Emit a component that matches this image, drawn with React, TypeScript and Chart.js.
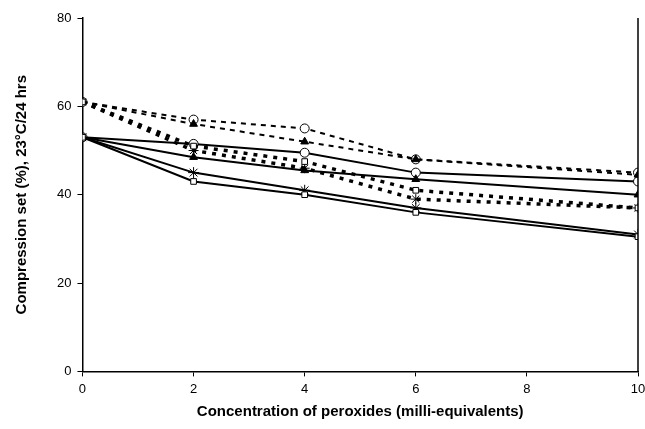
import React, { useEffect, useRef } from "react";
import { Chart, registerables } from "chart.js";

Chart.register(...registerables);

const xValues = [0, 2, 4, 6, 10];

const dashedCircle = [61, 57, 55, 48, 45];
const dashedTriangle = [61, 56, 52, 48, 44.5];
const dottedSquare = [61, 51, 47.5, 41, 37];
const dottedStar = [61, 50, 46, 39, 37];

const solidCircle = [53, 51.5, 49.5, 45, 43];
const solidTriangle = [53, 48.5, 45.5, 43.5, 40];
const solidStar = [53, 45, 41, 37, 31];
const solidSquare = [53, 43, 40, 36, 30.5];

const xTicks = [0, 2, 4, 6, 8, 10];
const yTicks = [0, 20, 40, 60, 80];

const toPts = (arr: number[]) => arr.map((v, i) => ({ x: xValues[i], y: v }));

const frame = {
  id: "frame",
  afterDatasetsDraw(chart: any) {
    const { ctx, chartArea } = chart;
    ctx.save();
    ctx.strokeStyle = "#000";
    ctx.lineWidth = 1.5;
    ctx.beginPath();
    ctx.moveTo(chartArea.right, chartArea.top);
    ctx.lineTo(chartArea.right, chartArea.bottom);
    ctx.stroke();
    ctx.restore();
  },
};

export default function App() {
  const ref = useRef<HTMLCanvasElement>(null);
  useEffect(() => {
    const mk = (
      data: number[],
      style: string,
      fill: string,
      dash: number[],
      width: number,
      radius: number
    ) => ({
      data: toPts(data),
      borderColor: "#000",
      borderWidth: width,
      borderDash: dash,
      pointStyle: style,
      pointRadius: radius,
      pointBackgroundColor: fill,
      pointBorderColor: "#000",
      pointBorderWidth: 1,
      showLine: true,
      tension: 0,
    });
    const chart = new Chart(ref.current!, {
      type: "scatter",
      data: {
        datasets: [
          mk(dottedSquare, "rect", "#fff", [4, 6], 3.5, 4),
          mk(dottedStar, "star", "#fff", [4, 6], 3.5, 5),
          mk(dashedTriangle, "triangle", "#000", [5, 5], 2, 4.5),
          mk(dashedCircle, "circle", "#fff", [5, 5], 2, 4.5),
          mk(solidSquare, "rect", "#fff", [], 2, 4),
          mk(solidStar, "star", "#fff", [], 2, 5.5),
          mk(solidTriangle, "triangle", "#000", [], 2, 4.5),
          mk(solidCircle, "circle", "#fff", [], 2, 4.5),
        ] as any,
      },
      options: {
        animation: false,
        responsive: false,
        maintainAspectRatio: false,
        layout: { padding: { left: 13, right: 0, top: 18, bottom: 8 } },
        plugins: { legend: { display: false }, tooltip: { enabled: false } },
        scales: {
          x: {
            type: "linear",
            min: 0,
            max: 10,
            afterBuildTicks: (s: any) => {
              s.ticks = xTicks.map((v) => ({ value: v }));
            },
            afterFit: (s: any) => {
              s.paddingRight = 7;
            },
            border: { color: "#000", width: 1.5 },
            grid: { drawOnChartArea: false, drawTicks: true, tickLength: 5, color: "#000" },
            ticks: {
              color: "#000",
              padding: 5,
              font: { family: "Liberation Sans", size: 13 },
            },
            title: {
              display: true,
              text: "Concentration of peroxides (milli-equivalents)",
              color: "#000",
              font: { family: "Liberation Sans", size: 15, weight: "bold" },
              padding: { top: 1, bottom: 0 },
            },
          },
          y: {
            type: "linear",
            min: 0,
            max: 80,
            afterBuildTicks: (s: any) => {
              s.ticks = yTicks.map((v) => ({ value: v }));
            },
            border: { color: "#000", width: 1.5 },
            grid: { drawOnChartArea: false, drawTicks: true, tickLength: 5, color: "#000" },
            ticks: {
              color: "#000",
              padding: 6,
              font: { family: "Liberation Sans", size: 13 },
            },
            title: {
              display: true,
              text: "Compression set (%), 23°C/24 hrs",
              color: "#000",
              font: { family: "Liberation Sans", size: 15, weight: "bold" },
              padding: { top: 0, bottom: 20 },
            },
          },
        },
      },
      plugins: [frame],
    });
    return () => chart.destroy();
  }, []);
  return (
    <div style={{ position: "fixed", left: 0, top: 0, width: 645, height: 429, background: "#fff" }}>
      <canvas ref={ref} width={645} height={429} style={{ width: 645, height: 429 }} />
    </div>
  );
}
